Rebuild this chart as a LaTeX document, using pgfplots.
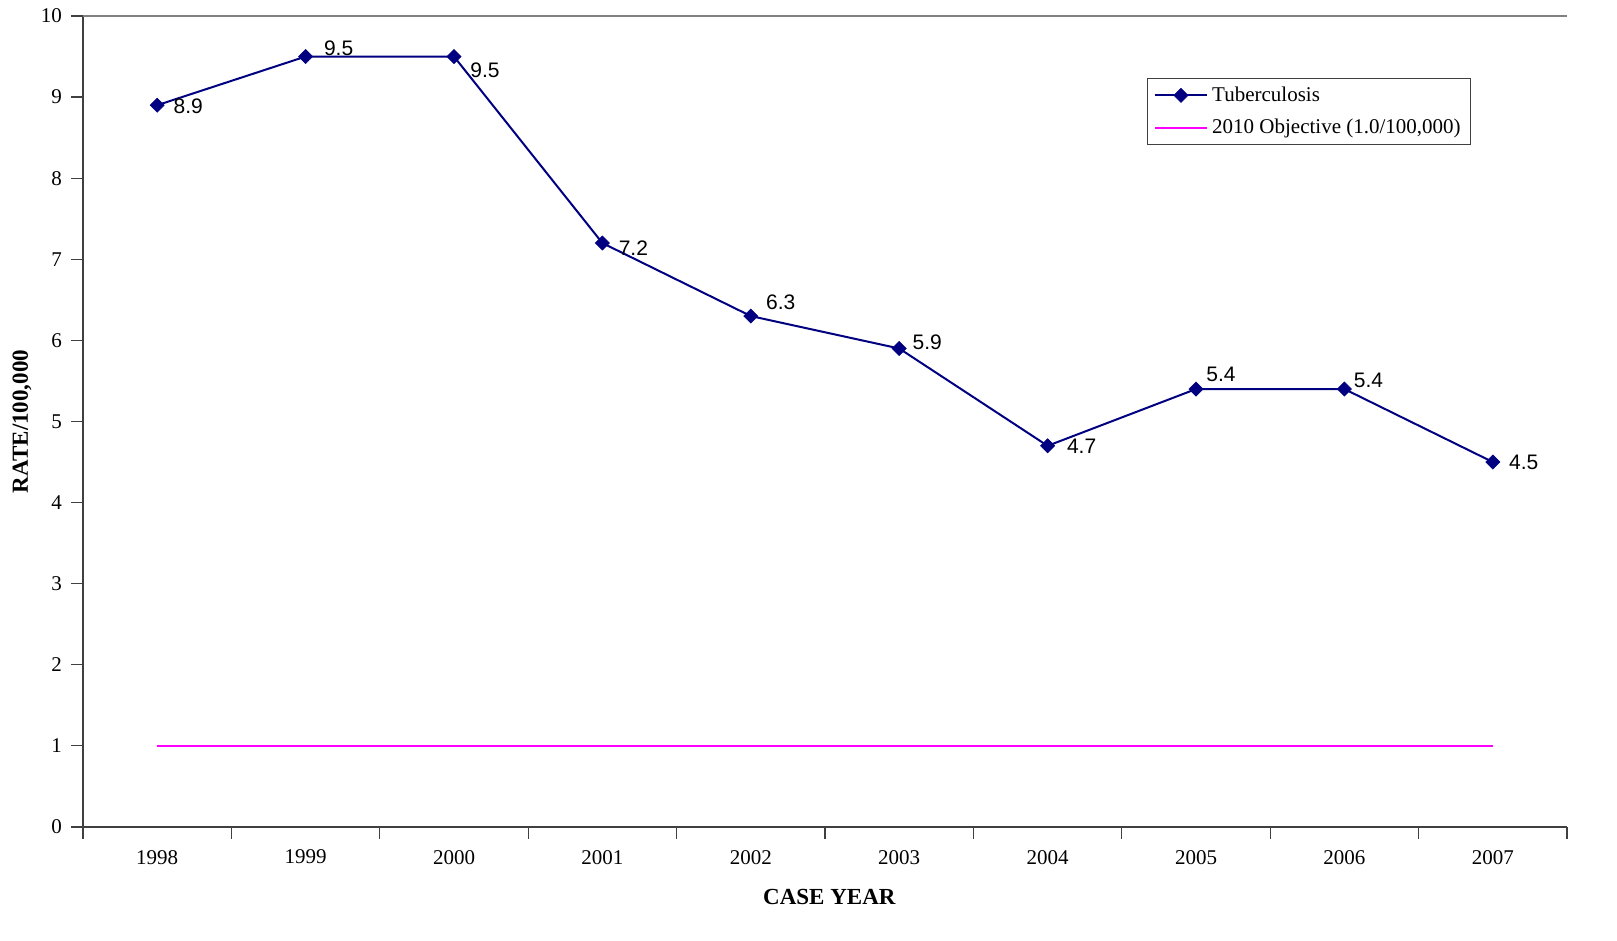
\documentclass[border=0pt]{standalone}
\usepackage{fontspec}
\setmainfont{Liberation Serif}
\newfontfamily\arialfont{Liberation Sans}
\usepackage{pgfplots}
\pgfplotsset{compat=1.18}

\definecolor{tbnavy}{RGB}{0,0,128}
\definecolor{objmag}{RGB}{255,0,255}
\definecolor{axgray}{RGB}{64,64,64}

\begin{document}
\begin{tikzpicture}
  \begin{axis}[
      name=main,
      at={(0,0)}, anchor=south west,
      scale only axis,
      width=742pt, height=405.5pt,
      xmin=-0.5, xmax=9.5,
      ymin=0, ymax=10,
      axis x line*=bottom,
      axis y line*=left,
      axis line style={axgray, line width=0.9pt},
      xtick={-0.5,0.5,...,9.5},
      xticklabels={},
      extra x ticks={0,1,...,9},
      extra x tick labels={1998,1999,2000,2001,2002,2003,2004,2005,2006,2007},
      extra x tick style={major tick length=0pt},
      ytick={0,1,...,10},
      tick align=outside,
      major tick length=6pt,
      tick style={axgray, line width=0.6pt},
      /pgf/number format/assume math mode=true,
      ticklabel style={font=\fontsize{10.5}{12}\selectfont},
      xticklabel style={yshift=-8pt},
      yticklabel style={xshift=-1pt},
      xlabel={\textbf{CASE YEAR}},
      ylabel={\textbf{RATE/100,000}},
      label style={font=\fontsize{11.5}{13}\selectfont},
      xlabel style={at={(axis description cs:0.503,0)}, anchor=center, yshift=-35pt},
      ylabel style={at={(axis description cs:0,0.5)}, anchor=center, yshift=30.5pt},
      clip=false,
      legend cell align=left,
      legend style={
        at={(0.717,0.9236)}, anchor=north west,
        draw=axgray, line width=0.6pt,
        font=\fontsize{10.5}{12}\selectfont,
        row sep=3.5pt, inner xsep=3pt, inner ysep=2pt
      },
      legend image code/.code={
        \draw[#1] (0pt,0pt) -- (26pt,0pt);
        \path[#1] plot coordinates {(13pt,0pt)};
      },
    ]
    % top border of the plot area
    \draw[gray, line width=0.9pt] (rel axis cs:0,1) -- (rel axis cs:1,1);

    \addplot[
      tbnavy, line width=1pt,
      mark=square*, mark size=2.5pt,
      mark options={rotate=45, fill=tbnavy, draw=tbnavy, line width=0.3pt},
      point meta=explicit symbolic,
      nodes near coords,
      visualization depends on={value \thisrow{dx}\as\dx},
      visualization depends on={value \thisrow{dy}\as\dy},
      every node near coord/.append style={
        anchor=center, text=black,
        font=\arialfont\fontsize{10.5}{12}\selectfont,
        xshift=\dx pt, yshift=\dy pt
      },
    ] table[x=x, y=y, meta=lab] {
      x y   lab dx   dy
      0 8.9 8.9 15.5 -0.5
      1 9.5 9.5 16.5 4
      2 9.5 9.5 15.5 -7
      3 7.2 7.2 15.5 -2.5
      4 6.3 6.3 15   7
      5 5.9 5.9 14   3
      6 4.7 4.7 17   0
      7 5.4 5.4 12.5 7.5
      8 5.4 5.4 12   4.5
      9 4.5 4.5 15.5 0
    };
    \addlegendentry{Tuberculosis}

    \addplot[objmag, line width=1.3pt, mark=none] coordinates {
      (0,1) (1,1) (2,1) (3,1) (4,1) (5,1) (6,1) (7,1) (8,1) (9,1)
    };
    \addlegendentry{2010 Objective (1.0/100,000)}
  \end{axis}
  \pgfresetboundingbox
  \useasboundingbox (-41.5pt,-57pt) rectangle (767pt,413.5pt);
\end{tikzpicture}
\end{document}
